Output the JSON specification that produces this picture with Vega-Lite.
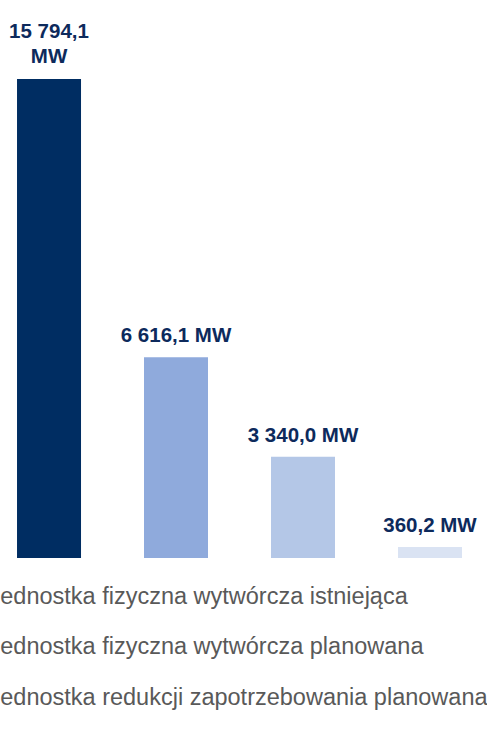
{
  "$schema": "https://vega.github.io/schema/vega-lite/v6.json",
  "width": 479,
  "height": 558,
  "padding": {"left": 0, "top": 0, "right": 8, "bottom": 175},
  "autosize": "none",
  "background": "white",
  "config": {"view": {"stroke": null}, "font": "Liberation Sans"},
  "data": {"values": [
    {"typ": "Jednostka fizyczna wytwórcza istniejąca", "moc": 15794.1, "line1": "15 794,1", "line2": "MW"},
    {"typ": "Jednostka fizyczna wytwórcza planowana", "moc": 6616.1, "line1": "6 616,1 MW"},
    {"typ": "Jednostka redukcji zapotrzebowania planowana", "moc": 3340.0, "line1": "3 340,0 MW"},
    {"typ": "Jednostka fizyczna wytwórcza modernizowana", "moc": 360.2, "line1": "360,2 MW"}
  ]},
  "encoding": {
    "x": {"field": "typ", "type": "nominal", "sort": null, "axis": null,
          "scale": {"paddingInner": 0.496, "paddingOuter": 0.134}},
    "y": {"field": "moc", "type": "quantitative", "axis": null, "scale": {"domain": [0, 18400], "nice": false}}
  },
  "layer": [
    {
      "mark": {"type": "bar"},
      "encoding": {
        "color": {"field": "typ", "type": "nominal", "sort": null,
          "scale": {"range": ["#002D62", "#8FAADC", "#B4C7E7", "#DAE3F3"]},
          "legend": {"orient": "none", "legendX": -39, "legendY": 585, "direction": "vertical",
            "title": null, "symbolType": "square", "symbolSize": 200, "labelFontSize": 23.5,
            "labelColor": "#595959", "rowPadding": 25.5, "labelLimit": 700}}
      }
    },
    {
      "transform": [{"filter": "!isValid(datum.line2)"}],
      "mark": {"type": "text", "baseline": "alphabetic", "dy": -15, "fontSize": 20.5, "fontWeight": "bold", "color": "#0D2A5C"},
      "encoding": {"text": {"field": "line1"}}
    },
    {
      "transform": [{"filter": "isValid(datum.line2)"}],
      "mark": {"type": "text", "baseline": "alphabetic", "dy": -41, "fontSize": 20.5, "fontWeight": "bold", "color": "#0D2A5C"},
      "encoding": {"text": {"field": "line1"}}
    },
    {
      "transform": [{"filter": "isValid(datum.line2)"}],
      "mark": {"type": "text", "baseline": "alphabetic", "dy": -16, "fontSize": 20.5, "fontWeight": "bold", "color": "#0D2A5C"},
      "encoding": {"text": {"field": "line2"}}
    }
  ]
}
